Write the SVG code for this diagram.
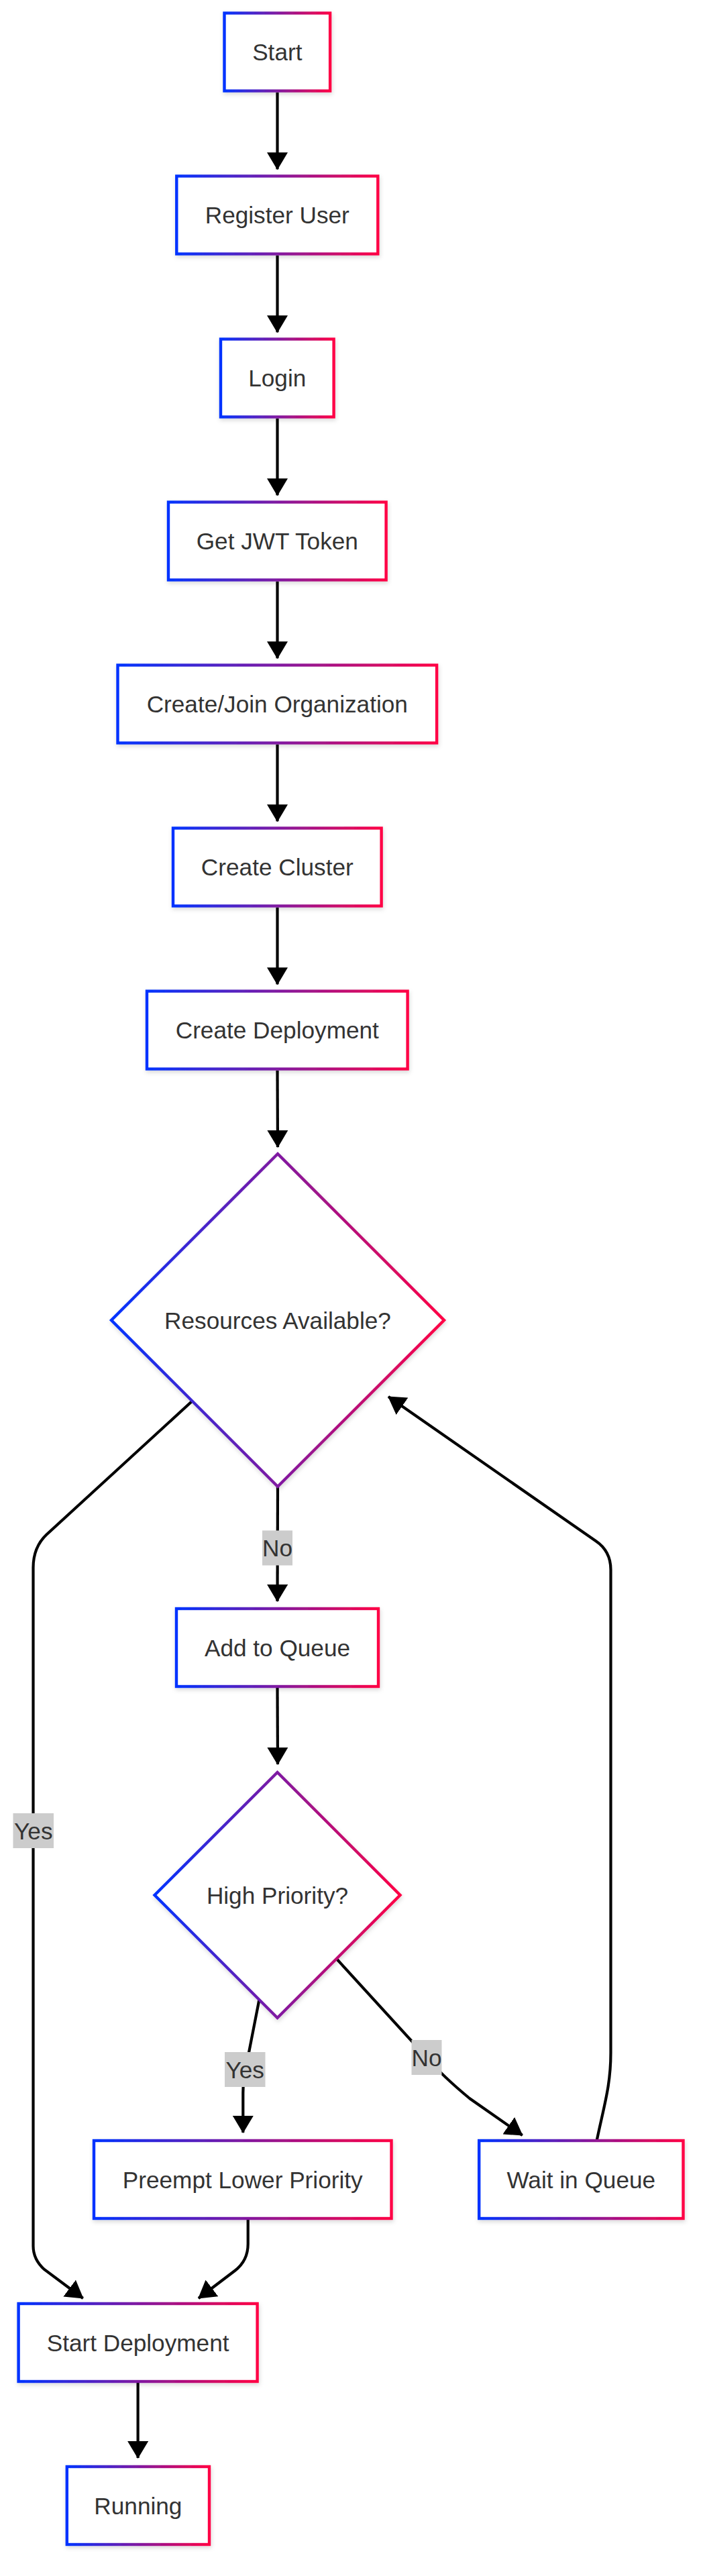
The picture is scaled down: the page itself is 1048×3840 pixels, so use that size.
<svg xmlns="http://www.w3.org/2000/svg" width="1048" height="3840" viewBox="0 0 1048 3840">
<style>
.node rect,.node polygon{fill:#ffffff;stroke:url(#grad);stroke-width:4.4;filter:url(#shadow)}
.node text{font-family:"Liberation Sans",Arial,Helvetica,sans-serif;font-size:35.2px;fill:#333333;text-anchor:middle;dominant-baseline:central}
.edge{fill:none;stroke:#000000;stroke-width:4.2;marker-end:url(#arrow)}
.elabel rect{fill:#cccccc}
.elabel text{font-family:"Liberation Sans",Arial,Helvetica,sans-serif;font-size:35.2px;fill:#333333;text-anchor:middle;dominant-baseline:central}
</style>
<defs>
<linearGradient id="grad" x1="0" y1="0" x2="1" y2="0">
<stop offset="0" stop-color="#0033ff"/>
<stop offset="1" stop-color="#ff0044"/>
</linearGradient>
<filter id="shadow" x="-20%" y="-20%" width="140%" height="140%">
<feDropShadow dx="1" dy="3" stdDeviation="3" flood-color="#000000" flood-opacity="0.15"/>
</filter>
<marker id="arrow" markerUnits="userSpaceOnUse" viewBox="0 0 26 31" markerWidth="26" markerHeight="31" refX="25" refY="15.5" orient="auto">
<path d="M0,0 L26,15.5 L0,31 Z" fill="#000000"/>
</marker>
</defs>
<rect x="0" y="0" width="1048" height="3840" fill="#ffffff"/>
<g id="connectors">
<path class="edge" d="M413.5,137.7 L413.5,252.3"/>
<path class="edge" d="M413.5,380.7 L413.5,495.3"/>
<path class="edge" d="M413.5,623.7 L413.5,738.3"/>
<path class="edge" d="M413.5,866.7 L413.5,981.3"/>
<path class="edge" d="M413.5,1109.7 L413.5,1224.3"/>
<path class="edge" d="M413.5,1352.7 L413.5,1467.3"/>
<path class="edge" d="M413.5,1595.7 L414,1710"/>
<path class="edge" d="M414,2216 L413.5,2387"/>
<path class="edge" d="M286,2089 L70,2287 Q49.5,2306 49.5,2337 L49.5,3348 Q49.5,3368 66,3383 L123.7,3426"/>
<path class="edge" d="M413.5,2516 L414,2630"/>
<path class="edge" d="M386.4,2981 L368,3075 Q362.3,3100 362.3,3120 L362.3,3179"/>
<path class="edge" d="M502.7,2921 L636,3067 Q660,3095 700,3128 L778.7,3183"/>
<path class="edge" d="M889,3194 C900,3140 910.5,3110 910.5,3060 L910.5,2340 Q910.5,2312 888,2297 L579,2082"/>
<path class="edge" d="M369.7,3308 L369.7,3345 Q369.7,3370 350,3385 L296,3426"/>
<path class="edge" d="M205.6,3550 L205.6,3664"/>
</g>
<g id="edge-labels">
<g class="elabel" id="label-no-1"><rect x="391" y="2281.5" width="45" height="52"/><text x="413.5" y="2307.5">No</text></g>
<g class="elabel" id="label-yes-1"><rect x="19.5" y="2703" width="60.5" height="52"/><text x="49.8" y="2729">Yes</text></g>
<g class="elabel" id="label-yes-2"><rect x="335" y="3059" width="60.5" height="52"/><text x="365.2" y="3085">Yes</text></g>
<g class="elabel" id="label-no-2"><rect x="613.5" y="3041" width="45" height="52"/><text x="636" y="3067">No</text></g>
</g>
<g id="node-start" class="node"><rect x="334.5" y="19.5" width="157.6" height="116"/><text x="413.3" y="77.5">Start</text></g>
<g id="node-register" class="node"><rect x="263.3" y="262.5" width="300" height="116"/><text x="413.3" y="320.5">Register User</text></g>
<g id="node-login" class="node"><rect x="329" y="505.5" width="168.6" height="116"/><text x="413.3" y="563.5">Login</text></g>
<g id="node-jwt" class="node"><rect x="251" y="748.5" width="324.6" height="116"/><text x="413.3" y="806.5">Get JWT Token</text></g>
<g id="node-org" class="node"><rect x="175.5" y="991.5" width="475.6" height="116"/><text x="413.3" y="1049.5">Create/Join Organization</text></g>
<g id="node-cluster" class="node"><rect x="258" y="1234.5" width="310.6" height="116"/><text x="413.3" y="1292.5">Create Cluster</text></g>
<g id="node-deployment" class="node"><rect x="219" y="1477.5" width="388.6" height="116"/><text x="413.3" y="1535.5">Create Deployment</text></g>
<g id="node-resources" class="node"><polygon points="414,1720 662,1968 414,2216 166,1968"/><text x="414" y="1968">Resources Available?</text></g>
<g id="node-queue" class="node"><rect x="263" y="2398" width="301" height="116"/><text x="413.5" y="2456">Add to Queue</text></g>
<g id="node-priority" class="node"><polygon points="413.5,2642 596.5,2825 413.5,3008 230.5,2825"/><text x="413.5" y="2825">High Priority?</text></g>
<g id="node-preempt" class="node"><rect x="140" y="3191" width="443.5" height="116"/><text x="361.7" y="3249">Preempt Lower Priority</text></g>
<g id="node-wait" class="node"><rect x="714.2" y="3191" width="304.3" height="116"/><text x="866.3" y="3249">Wait in Queue</text></g>
<g id="node-startdep" class="node"><rect x="27.6" y="3434" width="356" height="116"/><text x="205.6" y="3492">Start Deployment</text></g>
<g id="node-running" class="node"><rect x="99.8" y="3677" width="212.2" height="116"/><text x="205.9" y="3735">Running</text></g>
</svg>
